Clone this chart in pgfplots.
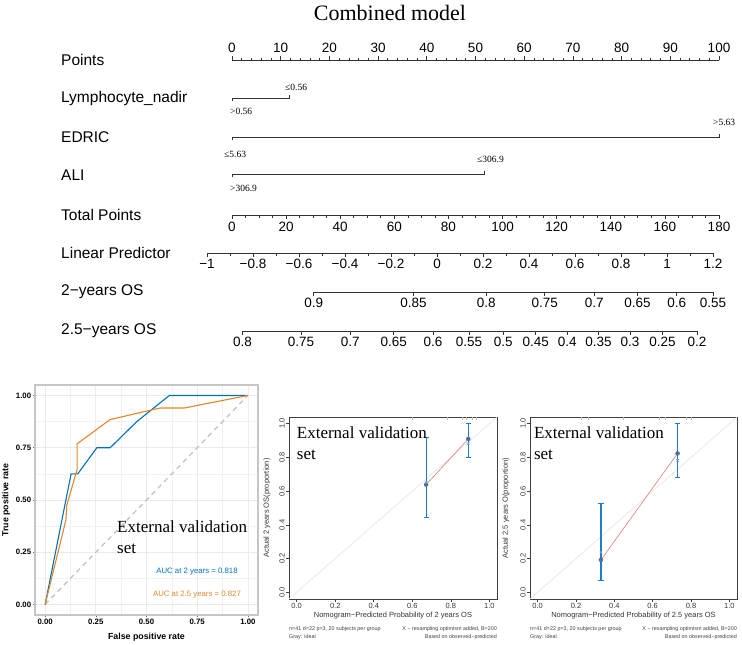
\documentclass[border=0pt]{standalone}
\usepackage{pgfplots}
\pgfplotsset{compat=1.18}
\usepackage{fontspec}
\setmainfont{Liberation Sans}
\newfontfamily\tnr{Liberation Serif}
\definecolor{rocblue}{HTML}{0072B5}
\definecolor{rocorange}{HTML}{E18727}
\definecolor{calblue}{HTML}{1C7DCB}
\definecolor{calx}{HTML}{6FA3DC}
\definecolor{calred}{HTML}{DE7F6C}
\definecolor{caldot}{HTML}{C8443C}
\definecolor{gridgray}{HTML}{EBEBEB}
\definecolor{nomo}{HTML}{333333}
\newcommand{\fs}[1]{\fontsize{#1}{#1}\selectfont}
\begin{document}
\begin{tikzpicture}[x=1pt,y=1pt]
\path[use as bounding box] (0pt,0pt) rectangle (742pt,-645pt);

% ================= nomogram (coordinates in pixels of the figure)
\begin{axis}[at={(0pt,0pt)}, anchor=north west, scale only axis, width=742pt, height=370pt,
  xmin=0, xmax=742, ymin=0, ymax=370, y dir=reverse, hide axis, clip=false]
% Points
\addplot[nomo, line width=1pt] coordinates {(232,60) (719,60)};
\addplot[nomo, line width=0.7pt, quiver={u=0,v=-2.5}] table[row sep=\\, x expr=232+4.87*\thisrow{p}, y expr=60]
 {p\\0\\2\\4\\6\\8\\10\\12\\14\\16\\18\\20\\22\\24\\26\\28\\30\\32\\34\\36\\38\\40\\42\\44\\46\\48\\50\\52\\54\\56\\58\\60\\62\\64\\66\\68\\70\\72\\74\\76\\78\\80\\82\\84\\86\\88\\90\\92\\94\\96\\98\\100\\};
\addplot[nomo, line width=0.7pt, quiver={u=0,v=-4}] table[row sep=\\, x expr=232+4.87*\thisrow{p}, y expr=60]
 {p\\0\\10\\20\\30\\40\\50\\60\\70\\80\\90\\100\\};
% Lymphocyte_nadir (0 / 12 points)
\addplot[nomo, line width=1pt] coordinates {(232,101) (232,98.3) (289,98.3) (289,95.3)};
% EDRIC (0 / 100 points)
\addplot[nomo, line width=1pt] coordinates {(232,140) (232,137.3) (719,137.3) (719,134.3)};
% ALI (0 / 52 points)
\addplot[nomo, line width=1pt] coordinates {(232,177) (232,174.3) (484,174.3) (484,171.3)};
% Total Points
\addplot[nomo, line width=1pt] coordinates {(232,215) (719,215)};
\addplot[nomo, line width=0.7pt, quiver={u=0,v=2.5}] table[row sep=\\, x expr=232+2.70556*\thisrow{p}, y expr=215]
 {p\\0\\5\\10\\15\\20\\25\\30\\35\\40\\45\\50\\55\\60\\65\\70\\75\\80\\85\\90\\95\\100\\105\\110\\115\\120\\125\\130\\135\\140\\145\\150\\155\\160\\165\\170\\175\\180\\};
\addplot[nomo, line width=0.7pt, quiver={u=0,v=4}] table[row sep=\\, x expr=232+2.70556*\thisrow{p}, y expr=215]
 {p\\0\\20\\40\\60\\80\\100\\120\\140\\160\\180\\};
% Linear Predictor
\addplot[nomo, line width=1pt] coordinates {(207,253) (713,253)};
\addplot[nomo, line width=0.7pt, quiver={u=0,v=2.5}] table[row sep=\\, x expr=437+230*\thisrow{p}, y expr=253]
 {p\\-1\\-0.9\\-0.8\\-0.7\\-0.6\\-0.5\\-0.4\\-0.3\\-0.2\\-0.1\\0\\0.1\\0.2\\0.3\\0.4\\0.5\\0.6\\0.7\\0.8\\0.9\\1\\1.1\\1.2\\};
\addplot[nomo, line width=0.7pt, quiver={u=0,v=4}] table[row sep=\\, x expr=437+230*\thisrow{p}, y expr=253]
 {p\\-1\\-0.8\\-0.6\\-0.4\\-0.2\\0\\0.2\\0.4\\0.6\\0.8\\1\\1.2\\};
% 2-years OS
\addplot[nomo, line width=1pt] coordinates {(313.7,292) (713,292)};
\addplot[nomo, line width=0.7pt, quiver={u=0,v=4}] table[row sep=\\, y expr=292]
 {x\\313.7\\413.4\\486.3\\544.8\\594.2\\637.6\\676.8\\713\\};
% 2.5-years OS
\addplot[nomo, line width=1pt] coordinates {(242.5,331) (696.9,331)};
\addplot[nomo, line width=0.7pt, quiver={u=0,v=4}] table[row sep=\\, y expr=331]
 {x\\242.5\\300.9\\350.3\\393.8\\433.0\\469.1\\503.2\\535.7\\567.3\\598.6\\630.1\\662.6\\696.9\\};
\end{axis}

% title and row labels
\node[font=\tnr\fs{22}] at (390,-13) {Combined model};
\foreach \y/\t in {60/Points, 98/Lymphocyte\_nadir, 137/EDRIC, 175/ALI, 215/Total Points, 253/Linear Predictor, 292/2−years OS, 331/2.5−years OS}
  \node[anchor=west, font=\fs{15.5}, inner sep=0pt] at (61,-\y) {\t};
% scale numbers
\foreach \x/\t in {232/0,280.7/10,329.4/20,378.1/30,426.8/40,475.5/50,524.2/60,572.9/70,621.6/80,670.3/90,719/100}
  \node[font=\fs{13.5}] at (\x,-48) {\t};
\foreach \x/\t in {232/0,286.1/20,340.2/40,394.3/60,448.4/80,502.6/100,556.7/120,610.8/140,664.9/160,719/180}
  \node[font=\fs{13.5}] at (\x,-227) {\t};
\foreach \x/\t in {207/−1,253/−0.8,299/−0.6,345/−0.4,391/−0.2,437/0,483/0.2,529/0.4,575/0.6,621/0.8,667/1,713/1.2}
  \node[font=\fs{13.5}] at (\x,-264) {\t};
\foreach \x/\t in {313.7/0.9,413.4/0.85,486.3/0.8,544.8/0.75,594.2/0.7,637.6/0.65,676.8/0.6,713/0.55}
  \node[font=\fs{13.5}] at (\x,-303) {\t};
\foreach \x/\t in {242.5/0.8,300.9/0.75,350.3/0.7,393.8/0.65,433.0/0.6,469.1/0.55,503.2/0.5,535.7/0.45,567.3/0.4,598.6/0.35,630.1/0.3,662.6/0.25,696.9/0.2}
  \node[font=\fs{13.5}] at (\x,-342) {\t};
% level labels
\begin{scope}[every node/.style={anchor=west, font=\tnr\fs{9.5}, inner sep=0pt}]
\node at (285,-87) {≤0.56};
\node at (230,-111) {>0.56};
\node at (713,-122) {>5.63};
\node at (224,-154) {≤5.63};
\node at (477,-159) {≤306.9};
\node at (230,-188) {>306.9};
\end{scope}

% ================= ROC curve
\begin{axis}[at={(35pt,-385pt)}, anchor=north west, scale only axis, width=223pt, height=230pt,
  xmin=-0.05, xmax=1.05, ymin=-0.05, ymax=1.05,
  xtick={0,0.25,0.5,0.75,1}, ytick={0,0.25,0.5,0.75,1},
  xticklabels={0.00,0.25,0.50,0.75,1.00}, yticklabels={0.00,0.25,0.50,0.75,1.00},
  minor xtick={0.125,0.375,0.625,0.875}, minor ytick={0.125,0.375,0.625,0.875},
  grid=both, major grid style={gridgray, line width=0.7pt}, minor grid style={gridgray!70, line width=0.35pt},
  axis line style={gray!45, line width=1.1pt},
  tick align=outside, tick pos=left, major tick length=2.2pt, minor tick length=0pt,
  tick style={black!60, line width=0.5pt},
  ticklabel style={font=\bfseries\fs{7.8}, inner sep=1.5pt},
  xlabel={False positive rate}, ylabel={True positive rate},
  label style={font=\bfseries\fs{8.8}},
  xlabel style={at={(axis description cs:0.5,-0.0957)}, anchor=center},
  ylabel style={at={(axis description cs:-0.13,0.5)}, anchor=center},
  clip=false]
\addplot[gray!50, line width=1.2pt, dash pattern=on 5pt off 4pt] coordinates {(0,0) (1,1)};
\addplot[rocblue, line width=1.1pt] coordinates {(0,0) (0.128,0.625) (0.161,0.625) (0.255,0.75) (0.321,0.75) (0.452,0.875) (0.613,1) (1,1)};
\addplot[rocorange, line width=1.1pt] coordinates {(0,0) (0.102,0.403) (0.107,0.475) (0.153,0.63) (0.158,0.645) (0.158,0.769) (0.321,0.885) (0.567,0.94) (0.687,0.94) (1,1)};
\node[anchor=west, inner sep=0pt, font=\tnr\fs{17}] at (axis cs:0.3545,0.371) {External validation};
\node[anchor=west, inner sep=0pt, font=\tnr\fs{17}] at (axis cs:0.3545,0.266) {set};
\node[font=\fs{7.8}, text=rocblue] at (axis cs:0.749,0.156) {AUC at 2 years = 0.818};
\node[font=\fs{7.8}, text=rocorange] at (axis cs:0.749,0.050) {AUC at 2.5 years = 0.827};
\end{axis}

% ================= Calibration, 2 years
\begin{axis}[at={(289pt,-417pt)}, anchor=north west, scale only axis, width=208pt, height=182pt,
  xmin=-0.04, xmax=1.04, ymin=-0.04, ymax=1.04,
  xtick={0,0.2,0.4,0.6,0.8,1}, ytick={0,0.2,0.4,0.6,0.8,1},
  xticklabels={0.0,0.2,0.4,0.6,0.8,1.0}, yticklabels={0.0,0.2,0.4,0.6,0.8,1.0},
  axis line style={black!75, line width=0.5pt},
  tick align=outside, tick pos=left, major tick length=3pt,
  tick style={black!75, line width=0.5pt},
  ticklabel style={font=\fs{7.5}, text=black!80, inner sep=1pt},
  yticklabel style={rotate=90, anchor=south},
  xlabel={Nomogram−Predicted Probability of 2 years OS}, ylabel={Actual 2 years OS(proportion)},
  label style={font=\fs{7.5}, text=black!80},
  xlabel style={at={(axis description cs:0.5,-0.093)}, anchor=center},
  ylabel style={at={(axis description cs:-0.106,0.5)}, anchor=center},
  clip=false]
\addplot[gray!22, line width=0.6pt] coordinates {(-0.04,-0.04) (1.04,1.04)};
\addplot[gray!55, line width=0.6pt, quiver={u=0,v=-0.02}] table[row sep=\\, y expr=1.04] {x\\0.60\\0.78\\0.86\\0.88\\0.91\\0.93\\};
\addplot[calred, line width=0.6pt] coordinates {(0.672,0.639) (0.891,0.910)};
\addplot[calblue, only marks, mark=none, error bars/.cd, y dir=both, y explicit,
  error bar style={calblue, line width=1.2pt}, error mark options={rotate=90, calblue, line width=1.1pt, mark size=2.6pt}]
  coordinates {(0.672,0.639) += (0,0.277) -= (0,0.194) (0.891,0.910) += (0,0.09) -= (0,0.11)};
\addplot[caldot, only marks, mark=*, mark size=1.1pt] coordinates {(0.672,0.639) (0.891,0.910)};
\addplot[calx, only marks, mark=x, mark size=1.7pt, line width=0.6pt] coordinates {(0.672,0.651) (0.891,0.881)};
\node[anchor=west, inner sep=0pt, font=\tnr\fs{17}] at (axis cs:0.0,0.945) {External validation};
\node[anchor=west, inner sep=0pt, font=\tnr\fs{17}] at (axis cs:0.0,0.815) {set};
\end{axis}
\node[anchor=west, inner sep=0pt, font=\fs{5.4}, text=black!75] at (289,-629) {n=41 d=22 p=3, 20 subjects per group};
\node[anchor=west, inner sep=0pt, font=\fs{5.4}, text=black!75] at (289,-637) {Gray: ideal};
\node[anchor=east, inner sep=0pt, font=\fs{5.4}, text=black!75] at (497,-629) {X − resampling optimism added, B=200};
\node[anchor=east, inner sep=0pt, font=\fs{5.4}, text=black!75] at (497,-637) {Based on observed−predicted};

% ================= Calibration, 2.5 years
\begin{axis}[at={(530pt,-417pt)}, anchor=north west, scale only axis, width=207pt, height=182pt,
  xmin=-0.04, xmax=1.04, ymin=-0.04, ymax=1.04,
  xtick={0,0.2,0.4,0.6,0.8,1}, ytick={0,0.2,0.4,0.6,0.8,1},
  xticklabels={0.0,0.2,0.4,0.6,0.8,1.0}, yticklabels={0.0,0.2,0.4,0.6,0.8,1.0},
  axis line style={black!75, line width=0.5pt},
  tick align=outside, tick pos=left, major tick length=3pt,
  tick style={black!75, line width=0.5pt},
  ticklabel style={font=\fs{7.5}, text=black!80, inner sep=1pt},
  yticklabel style={rotate=90, anchor=south},
  xlabel={Nomogram−Predicted Probability of 2.5 years OS}, ylabel={Actual 2.5 years O(proportion)},
  label style={font=\fs{7.5}, text=black!80},
  xlabel style={at={(axis description cs:0.5,-0.093)}, anchor=center},
  ylabel style={at={(axis description cs:-0.116,0.5)}, anchor=center},
  clip=false]
\addplot[gray!22, line width=0.6pt] coordinates {(-0.04,-0.04) (1.04,1.04)};
\addplot[gray!55, line width=0.6pt, quiver={u=0,v=-0.02}] table[row sep=\\, y expr=1.04] {x\\0.227\\0.264\\0.447\\0.634\\0.668\\0.777\\0.802\\};
\addplot[calred, line width=0.6pt] coordinates {(0.33,0.192) (0.73,0.824)};
\addplot[calblue, only marks, mark=none, error bars/.cd, y dir=both, y explicit,
  error bar style={calblue, line width=1.2pt}, error mark options={rotate=90, calblue, line width=1.1pt, mark size=2.6pt}]
  coordinates {(0.33,0.192) += (0,0.336) -= (0,0.121) (0.73,0.824) += (0,0.176) -= (0,0.143)};
\addplot[caldot, only marks, mark=*, mark size=1.1pt] coordinates {(0.33,0.192) (0.73,0.824)};
\addplot[calx, only marks, mark=x, mark size=1.7pt, line width=0.6pt] coordinates {(0.33,0.237) (0.73,0.782)};
\node[anchor=west, inner sep=0pt, font=\tnr\fs{17}] at (axis cs:-0.02,0.945) {External validation};
\node[anchor=west, inner sep=0pt, font=\tnr\fs{17}] at (axis cs:-0.02,0.815) {set};
\end{axis}
\node[anchor=west, inner sep=0pt, font=\fs{5.4}, text=black!75] at (530,-629) {n=41 d=22 p=3, 20 subjects per group};
\node[anchor=west, inner sep=0pt, font=\fs{5.4}, text=black!75] at (530,-637) {Gray: ideal};
\node[anchor=east, inner sep=0pt, font=\fs{5.4}, text=black!75] at (737,-629) {X − resampling optimism added, B=200};
\node[anchor=east, inner sep=0pt, font=\fs{5.4}, text=black!75] at (737,-637) {Based on observed−predicted};
\end{tikzpicture}
\end{document}
